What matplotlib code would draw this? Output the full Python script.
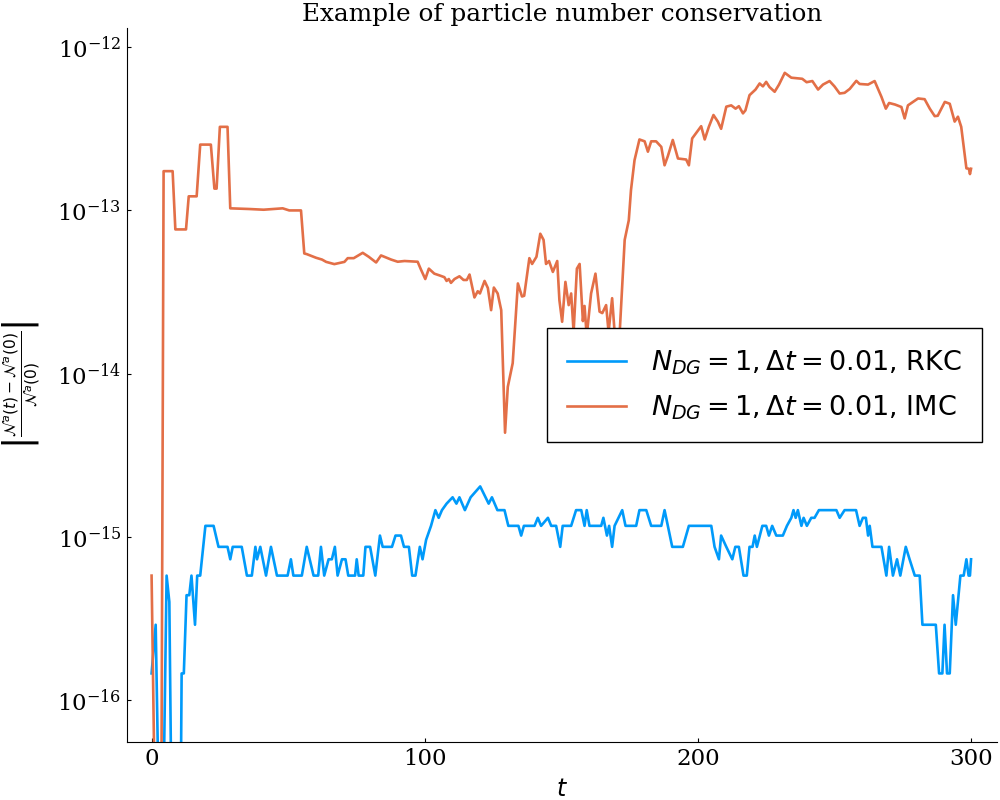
import numpy as np
import matplotlib
matplotlib.use("Agg")
import matplotlib.pyplot as plt

# RKC run (values quantised near machine eps)
rkc_t = [0, 1.5, 3, 4, 5.5, 6.5, 7.5, 10.5, 11, 11.8,
         12.8, 13.8, 14.6, 15.9, 16.7, 17.8, 19.7, 22.7, 24.5, 27.8,
         28.8, 29.7, 33, 34.9, 36.7, 38, 38.6, 39.8, 41.9, 43.7,
         45.9, 49.8, 51, 51.9, 55, 56.8, 59.3, 61, 62, 63.2,
         64.8, 66, 67.1, 68.1, 69.7, 71, 72, 74.5, 75.1, 75.8,
         77.5, 78.3, 80, 81.9, 83.6, 84.6, 88, 89.3, 91.3, 92.4,
         94.2, 95.4, 96.6, 98.2, 99.2, 100.5, 102.3, 103.9, 105.1, 106.3,
         108, 110.2, 111.6, 112.7, 114.7, 116.8, 120.3, 123.4, 124.6, 126.6,
         129.2, 130.6, 134.3, 135.3, 136.3, 140.2, 141.4, 142.6, 145.1, 146.3,
         148.1, 149.6, 150.5, 153.6, 155.4, 157.3, 158.5, 159.3, 160.3, 164.6,
         165.4, 166.7, 167.5, 168.6, 169.5, 172.3, 173.5, 177.4, 178.6, 181.1,
         182.9, 186.6, 187.8, 189, 190.6, 194.5, 196.7, 204.9, 206.1, 207.7,
         208.5, 210.4, 212.6, 213.7, 215, 216.7, 217.9, 218.9, 220, 220.8,
         221.6, 223.6, 225, 226, 227.2, 228.7, 231.1, 232.6, 234.2, 235,
         235.8, 236.6, 237.9, 238.7, 239.9, 241.5, 242.7, 244.3, 250.7, 251.9,
         253.7, 257.9, 259.2, 260.4, 261.5, 262.3, 262.9, 263.9, 267.2, 269,
         270, 271.4, 272.9, 274.1, 276.1, 277.5, 279.4, 281.2, 282.2, 287.1,
         288.3, 289.5, 290.3, 291.2, 292.2, 293.4, 294.4, 296.1, 297.3, 298.3,
         299.1, 299.6, 300]
# in units of 1e-16
rkc_val = [1.46, 2.9, 0.1, 0.1, 5.8, 4.0, 0.1, 0.1, 1.46, 1.46,
           4.4, 4.4, 5.8, 2.9, 5.8, 5.8, 11.7, 11.7, 8.7, 8.7,
           7.3, 8.7, 8.7, 5.8, 5.8, 8.7, 7.3, 8.7, 5.8, 8.7,
           5.8, 5.8, 7.3, 5.8, 5.8, 8.7, 5.8, 5.8, 8.7, 5.8,
           7.3, 7.3, 8.7, 5.8, 7.3, 7.3, 5.8, 5.8, 7.3, 5.8,
           5.8, 8.7, 8.7, 5.8, 10.2, 8.7, 8.7, 10.2, 10.2, 8.7,
           8.7, 5.8, 5.8, 8.7, 7.3, 9.6, 11.7, 14.6, 13.1, 14.6,
           16.0, 17.5, 16.0, 17.5, 14.6, 17.5, 20.4, 16.0, 17.5, 14.6,
           14.6, 11.7, 11.7, 10.2, 11.7, 11.7, 13.1, 11.7, 13.1, 11.7,
           11.7, 8.7, 11.7, 11.7, 14.6, 14.6, 11.7, 14.6, 11.7, 11.7,
           13.1, 10.2, 11.7, 8.7, 11.7, 14.6, 11.7, 11.7, 14.6, 14.6,
           11.7, 11.7, 14.6, 11.7, 8.7, 8.7, 11.7, 11.7, 8.7, 7.3,
           10.2, 8.7, 7.3, 8.7, 8.7, 5.8, 5.8, 8.7, 8.7, 10.2,
           8.7, 11.7, 11.7, 10.2, 11.7, 10.2, 10.2, 11.7, 13.1, 14.6,
           13.1, 14.6, 11.7, 13.1, 11.7, 13.1, 13.1, 14.6, 14.6, 13.1,
           14.6, 14.6, 11.7, 13.1, 13.1, 10.2, 11.7, 8.7, 8.7, 5.8,
           8.7, 5.8, 7.3, 5.8, 8.7, 7.3, 5.8, 5.8, 2.9, 2.9,
           1.46, 1.46, 2.9, 1.46, 1.46, 4.4, 2.9, 5.8, 5.8, 7.3,
           5.8, 5.8, 7.3]

# IMC run
imc_t = [0, 1.5, 3.5, 4.4, 7.7, 8.7, 12.6, 13.6, 16.5, 17.8,
         21.7, 23, 23.8, 25, 27.8, 28.8, 35.8, 41, 48, 50.4,
         54.7, 55.9, 56.8, 60.2, 62.4, 63.9, 66.9, 70.6, 71.8, 74,
         77.3, 79.5, 82.2, 84, 87.7, 90.1, 92.6, 97.4, 98.6, 100.2,
         101.5, 103.5, 105.4, 107.2, 108, 108.8, 109.6, 110.9, 112.7, 114.2,
         115.4, 116.4, 118.2, 119.4, 120.2, 121.9, 123.1, 124.3, 125.3, 126.7,
         128, 129.4, 130.4, 132.2, 134.1, 135.6, 136.4, 138.3, 139.3, 140.9,
         142.3, 143.5, 144.4, 145.5, 146.9, 148.5, 149.3, 150.3, 151.5, 152.7,
         153.6, 154.5, 155.7, 156.7, 157.9, 158.5, 159.3, 160.9, 162.5, 164,
         165, 166.4, 167.3, 168.6, 169.5, 171.3, 173.2, 174.7, 175.5, 176.8,
         178.6, 180.5, 181.7, 182.9, 184.7, 186.6, 187.8, 189, 190.8, 192.7,
         195.7, 196.7, 197.9, 201.2, 202.5, 204, 205.7, 207.3, 208.5, 210.4,
         212.2, 213.8, 215, 216.5, 217.4, 218.9, 221.1, 222.6, 223.8, 225,
         226.2, 228.1, 229.7, 231.8, 234.2, 238.2, 239.8, 241.9, 244, 245.8,
         248.2, 250, 251.9, 253.7, 255.6, 258, 259.2, 262.3, 264.7, 267.2,
         268.8, 270, 272.2, 274.5, 275.7, 276.9, 278.6, 280.6, 283, 284.9,
         286.7, 287.8, 290.4, 292.2, 294, 295.2, 296.4, 298.3, 299.2, 299.6,
         300]
# in units of 1e-14
imc_val = [0.058, 0.001, 0.001, 17.4, 17.4, 7.65, 7.65, 12.2, 12.2, 25.3,
           25.3, 13.6, 13.6, 32.5, 32.5, 10.3, 10.2, 10.1, 10.3, 10.0,
           10.0, 5.45, 5.4, 5.13, 5.0, 4.84, 4.69, 4.84, 5.1, 5.1,
           5.5, 5.2, 4.8, 5.3, 5.0, 4.85, 4.9, 4.85, 4.35, 3.8,
           4.4, 4.1, 4.0, 3.9, 3.7, 3.8, 3.6, 3.8, 3.95, 3.75,
           3.75, 4.05, 2.93, 3.2, 3.1, 3.7, 3.35, 2.45, 3.37, 3.1,
           2.45, 0.435, 0.83, 1.16, 3.57, 2.97, 3.0, 5.1, 4.7, 5.2,
           7.2, 6.6, 4.7, 4.9, 4.2, 4.9, 2.82, 2.08, 3.65, 2.63,
           3.1, 1.8, 4.4, 4.7, 2.1, 2.6, 1.7, 3.1, 4.1, 2.4,
           2.35, 2.63, 1.8, 2.9, 1.8, 1.7, 6.6, 8.7, 13.3, 20.3,
           27.2, 26.5, 22.9, 26.5, 26.5, 24.5, 18.9, 21.5, 27.0, 20.8,
           20.5, 18.9, 27.6, 32.8, 27.2, 32.5, 38.4, 35.0, 31.6, 43.2,
           44.0, 42.0, 43.5, 39.3, 41.0, 50.8, 55.0, 59.9, 57.5, 61.3,
           57.0, 53.3, 59.0, 69.6, 65.0, 64.0, 61.0, 62.0, 55.0, 59.0,
           62.0, 57.5, 52.0, 52.5, 55.5, 62.2, 59.5, 59.0, 62.0, 49.6,
           42.0, 45.5, 44.5, 43.0, 36.6, 44.0, 46.0, 48.5, 48.0, 42.0,
           37.8, 38.0, 46.2, 45.0, 35.0, 37.5, 32.5, 18.1, 18.0, 16.7,
           18.0]

rkc = np.array(rkc_val) * 1e-16
imc = np.array(imc_val) * 1e-14

plt.rcParams['font.family'] = 'DejaVu Serif'
plt.rcParams['mathtext.fontset'] = 'dejavusans'

fig = plt.figure(figsize=(10, 8), dpi=100)
ax = fig.add_axes([0.127, 0.0725, 0.87, 0.8925])

ax.plot(rkc_t, rkc, color='#009AFA', lw=1.9,
        label=r'$N_{DG} = 1, \Delta t = 0.01$, RKC')
ax.plot(imc_t, imc, color='#E36F47', lw=1.9,
        label=r'$N_{DG} = 1, \Delta t = 0.01$, IMC')

ax.set_yscale('log')
ax.set_xlim(-9, 309.5)
ax.set_ylim(5.55e-17, 1.31e-12)
ax.set_xticks([0, 100, 200, 300])
ax.set_yticks([1e-16, 1e-15, 1e-14, 1e-13, 1e-12])
ax.yaxis.set_minor_locator(matplotlib.ticker.NullLocator())
ax.tick_params(direction='in', length=3, width=0.8, labelsize=16.5, pad=4)

for s in ['top', 'right']:
    ax.spines[s].set_visible(False)

ax.set_title('Example of particle number conservation', fontsize=17.8, pad=5)
ax.set_xlabel(r'$t$', fontsize=17, labelpad=6)
ax.set_ylabel(r'$\left|\frac{\mathcal{N}^a(t) - \mathcal{N}^a(0)}{\mathcal{N}^a(0)}\right|$',
              fontsize=16, labelpad=10)

leg = ax.legend(loc='center right', bbox_to_anchor=(0.983, 0.5),
                prop={'family': 'DejaVu Sans', 'size': 19.5},
                fancybox=False, framealpha=1, edgecolor='black',
                handlelength=2.2, handletextpad=0.9, borderpad=0.75,
                labelspacing=0.62, borderaxespad=0)
leg.get_frame().set_linewidth(1.0)

fig.savefig('out.png', dpi=100)
